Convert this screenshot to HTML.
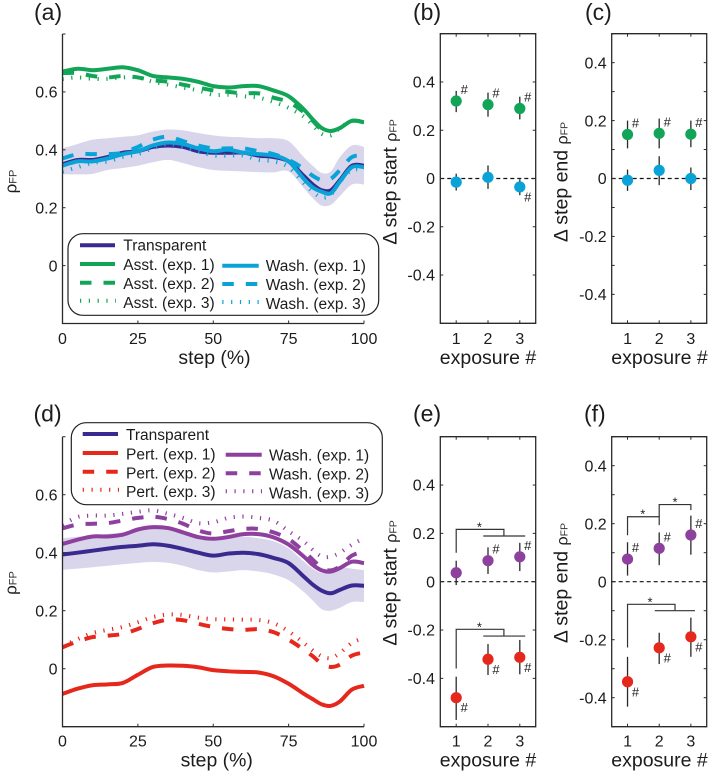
<!DOCTYPE html>
<html>
<head>
<meta charset="utf-8">
<style>
html,body{margin:0;padding:0;background:#fff;}
svg{display:block;font-family:"Liberation Sans",sans-serif;fill:#1c1c1c;}
</style>
</head>
<body>
<svg id="fig" xmlns="http://www.w3.org/2000/svg" width="709" height="774" viewBox="0 0 709 774">
<g id="bands"></g>
<g id="marks"></g>
<g id="axes"></g>

<text x="34" y="20" font-size="23">(a)</text>
<text x="413" y="20" font-size="23">(b)</text>
<text x="585" y="20" font-size="23">(c)</text>
<text x="33.5" y="421.7" font-size="23">(d)</text>
<text x="413" y="421.7" font-size="23">(e)</text>
<text x="584" y="421.7" font-size="23">(f)</text>

<text x="214.5" y="364" font-size="19.4" text-anchor="middle">step (%)</text>
<text x="216.7" y="766.7" font-size="19.4" text-anchor="middle">step (%)</text>
<text x="488" y="364" font-size="19.5" text-anchor="middle">exposure #</text>
<text x="659.5" y="364" font-size="19.5" text-anchor="middle">exposure #</text>
<text x="488" y="766.7" font-size="19.5" text-anchor="middle">exposure #</text>
<text x="659.5" y="766.7" font-size="19.5" text-anchor="middle">exposure #</text>

<text transform="translate(16.7,181.5) rotate(-90)" font-size="17" text-anchor="middle">ρ<tspan font-size="11" fill="#333">FP</tspan></text>
<text transform="translate(16.7,583) rotate(-90)" font-size="17" text-anchor="middle">ρ<tspan font-size="11" fill="#333">FP</tspan></text>
<text transform="translate(396.7,182) rotate(-90)" font-size="19.5" text-anchor="middle">Δ step start <tspan font-size="16">ρ</tspan><tspan font-size="10.5" fill="#333">FP</tspan></text>
<text transform="translate(567.7,182) rotate(-90)" font-size="19.5" text-anchor="middle">Δ step end <tspan font-size="16">ρ</tspan><tspan font-size="10.5" fill="#333">FP</tspan></text>
<text transform="translate(396.7,583) rotate(-90)" font-size="19.5" text-anchor="middle">Δ step start <tspan font-size="16">ρ</tspan><tspan font-size="10.5" fill="#333">FP</tspan></text>
<text transform="translate(567.7,583) rotate(-90)" font-size="19.5" text-anchor="middle">Δ step end <tspan font-size="16">ρ</tspan><tspan font-size="10.5" fill="#333">FP</tspan></text>

<g font-size="15.5">
  <rect x="68" y="233.7" width="310.7" height="81.6" rx="15" fill="#fff" stroke="#222" stroke-width="1.2"/>
  <line x1="80" x2="115" y1="245.3" y2="245.3" stroke="#3a2a8f" stroke-width="4"/>
  <text x="123.3" y="250.7">Transparent</text>
  <line x1="80" x2="115" y1="264" y2="264" stroke="#12a558" stroke-width="4"/>
  <text x="123.3" y="270">Asst. (exp. 1)</text>
  <line x1="80" x2="115" y1="282.7" y2="282.7" stroke="#12a558" stroke-width="4" stroke-dasharray="11.5 12"/>
  <text x="123.3" y="289">Asst. (exp. 2)</text>
  <line x1="80" x2="116" y1="300.7" y2="300.7" stroke="#12a558" stroke-width="4" stroke-dasharray="1.2 7.6"/>
  <text x="123.3" y="308">Asst. (exp. 3)</text>
  <line x1="222.3" x2="258.7" y1="265.7" y2="265.7" stroke="#0aa3d8" stroke-width="4"/>
  <text x="265.7" y="271">Wash. (exp. 1)</text>
  <line x1="222.3" x2="258.7" y1="284" y2="284" stroke="#0aa3d8" stroke-width="4" stroke-dasharray="11.5 12"/>
  <text x="265.7" y="290">Wash. (exp. 2)</text>
  <line x1="222.3" x2="259" y1="302" y2="302" stroke="#0aa3d8" stroke-width="4" stroke-dasharray="1.2 7.6"/>
  <text x="265.7" y="309">Wash. (exp. 3)</text>
</g>

<g font-size="15.5">
  <rect x="71.3" y="422.7" width="311" height="82" rx="15" fill="#fff" stroke="#222" stroke-width="1.2"/>
  <line x1="82.7" x2="118" y1="434" y2="434" stroke="#3a2a8f" stroke-width="4"/>
  <text x="126" y="440">Transparent</text>
  <line x1="82.7" x2="118" y1="453" y2="453" stroke="#e6281c" stroke-width="4"/>
  <text x="126" y="459.3">Pert. (exp. 1)</text>
  <line x1="82.7" x2="118" y1="471.7" y2="471.7" stroke="#e6281c" stroke-width="4" stroke-dasharray="11.5 12"/>
  <text x="126" y="478.3">Pert. (exp. 2)</text>
  <line x1="82.7" x2="119" y1="489.7" y2="489.7" stroke="#e6281c" stroke-width="4" stroke-dasharray="1.2 7.6"/>
  <text x="126" y="497">Pert. (exp. 3)</text>
  <line x1="225.7" x2="261.7" y1="454.7" y2="454.7" stroke="#8e409e" stroke-width="4"/>
  <text x="269" y="460.7">Wash. (exp. 1)</text>
  <line x1="225.7" x2="261.7" y1="473.3" y2="473.3" stroke="#8e409e" stroke-width="4" stroke-dasharray="11.5 12"/>
  <text x="269" y="479.7">Wash. (exp. 2)</text>
  <line x1="225.7" x2="262" y1="491.3" y2="491.3" stroke="#8e409e" stroke-width="4" stroke-dasharray="1.2 7.6"/>
  <text x="269" y="498.3">Wash. (exp. 3)</text>
</g>
</svg>

<script>
/* ---------- data: step curves ---------- */
const steps = [0,5,10,15,20,25,30,35,40,45,50,55,60,65,70,75,80,83,86,89,92,96,100];

const aTransparent = [.35,.365,.365,.375,.39,.395,.41,.415,.41,.395,.39,.39,.39,.38,.375,.36,.31,.28,.26,.26,.295,.345,.345];
const aTransparentHi = [.405,.42,.435,.44,.445,.45,.463,.47,.467,.458,.45,.445,.443,.44,.44,.43,.375,.345,.32,.325,.375,.415,.41];
const aTransparentLo = [.315,.315,.317,.33,.337,.345,.357,.365,.354,.34,.33,.327,.325,.323,.322,.325,.268,.233,.207,.21,.24,.28,.28];
const aAsst1 = [.67,.68,.675,.68,.685,.675,.655,.65,.645,.635,.62,.615,.62,.62,.605,.585,.54,.505,.475,.465,.475,.5,.495];
const aAsst2 = [.665,.665,.655,.65,.655,.65,.64,.635,.625,.615,.605,.6,.595,.595,.58,.565,.53,.5,.47,.465,.475,.5,.495];
const aAsst3 = [.645,.65,.645,.645,.65,.65,.635,.625,.615,.605,.59,.59,.585,.58,.565,.545,.515,.485,.455,.45,.475,.5,.495];
const aWash1 = [.345,.36,.36,.37,.385,.395,.415,.425,.42,.405,.395,.4,.39,.385,.38,.36,.3,.27,.255,.25,.29,.34,.34];
const aWash2 = [.37,.385,.385,.385,.39,.41,.435,.445,.43,.415,.405,.405,.405,.395,.385,.365,.335,.31,.295,.3,.33,.375,.38];
const aWash3 = [.325,.34,.355,.36,.375,.385,.405,.42,.41,.395,.38,.38,.38,.365,.36,.34,.285,.255,.235,.245,.29,.33,.33];

const dTransparent = [.394,.4,.407,.414,.42,.424,.429,.424,.413,.4,.39,.397,.4,.395,.382,.364,.318,.29,.269,.26,.272,.287,.286];
const dTransparentHi = [.45,.455,.46,.465,.47,.475,.485,.485,.47,.455,.445,.45,.455,.45,.44,.415,.37,.345,.33,.335,.35,.345,.34];
const dTransparentLo = [.341,.345,.35,.355,.36,.365,.368,.365,.355,.34,.332,.335,.34,.335,.325,.305,.265,.235,.205,.2,.21,.23,.23];
const dPert1 = [-.087,-.069,-.057,-.054,-.049,-.021,.006,.011,.01,.005,-.005,-.009,-.011,-.013,-.026,-.052,-.086,-.105,-.123,-.128,-.113,-.072,-.059];
const dPert2 = [.074,.094,.109,.114,.12,.137,.157,.169,.167,.155,.144,.137,.134,.136,.126,.1,.066,.043,.017,.006,.014,.045,.056];
const dPert3 = [.077,.102,.123,.134,.144,.16,.178,.187,.185,.176,.171,.17,.169,.168,.157,.129,.089,.063,.043,.037,.054,.089,.106];
const dWash1 = [.43,.445,.456,.456,.462,.48,.488,.485,.47,.454,.448,.454,.464,.464,.453,.428,.387,.358,.339,.335,.347,.369,.364];
const dWash2 = [.484,.497,.5,.502,.511,.52,.524,.516,.5,.477,.466,.474,.482,.482,.47,.447,.405,.376,.347,.339,.353,.39,.405];
const dWash3 = [.497,.523,.528,.528,.534,.541,.546,.534,.52,.502,.505,.52,.525,.52,.51,.474,.439,.41,.387,.387,.4,.428,.45];

/* ---------- data: exposure summaries ---------- */
const exposures = [1,2,3];

const bAsst = [.321,.306,.29];
const bAsstHi = [.363,.356,.339];
const bAsstLo = [.275,.256,.245];
const bAsstSig = [1,1,1];
const bWash = [-.015,.005,-.035];
const bWashHi = [.02,.054,-.004];
const bWashLo = [-.05,-.043,-.069];
const bWashSig = [0,0,1];

const cAsst = [.152,.156,.153];
const cAsstHi = [.2,.207,.2];
const cAsstLo = [.104,.104,.108];
const cAsstSig = [1,1,1];
const cWash = [-.006,.028,0];
const cWashHi = [.031,.077,.038];
const cWashLo = [-.043,-.023,-.04];
const cWashSig = [0,0,0];

const eWash = [.037,.087,.103];
const eWashHi = [.087,.142,.161];
const eWashLo = [-.014,.032,.044];
const eWashSig = [0,1,1];
const ePert = [-.48,-.321,-.313];
const ePertHi = [-.393,-.258,-.241];
const ePertLo = [-.572,-.386,-.383];
const ePertSig = [1,1,1];

const fWash = [.078,.115,.161];
const fWashHi = [.136,.17,.228];
const fWashLo = [.021,.057,.093];
const fWashSig = [1,1,1];
const fPert = [-.345,-.228,-.19];
const fPertHi = [-.259,-.176,-.124];
const fPertLo = [-.431,-.284,-.259];
const fPertSig = [1,1,1];

/* ---------- tick labels ---------- */
const stepTicks = [0,25,50,75,100];
const rhoTicks = [-.2,0,.2,.4,.6,.8];
const rhoTickLabels = ['','0','0.2','0.4','0.6',''];
const startTicks = [-.6,-.4,-.2,0,.2,.4,.6];
const startTickLabels = ['','-0.4','-0.2','0','0.2','0.4',''];
const endTicks = [-.5,-.4,-.3,-.2,-.1,0,.1,.2,.3,.4,.5];
const endTickLabels = ['','-0.4','','-0.2','','0','','0.2','','0.4',''];

/* ---------- significance brackets, in data units (exposure, value) ---------- */
const eBracketUpperA = [[1,.12],[1,.2166],[2.5,.2166],[2.5,.189]];
const eBracketUpperB = [[1.85,.189],[3.17,.189]];
const eBracketUpperStar = [1.73,.2166];
const eBracketLowerA = [[1,-.359],[1,-.197],[2.5,-.197],[2.5,-.225]];
const eBracketLowerB = [[1.85,-.225],[3.17,-.225]];
const eBracketLowerStar = [1.73,-.197];

const fBracketUpperA = [[1,.16],[1,.224],[2,.224],[2,.195]];
const fBracketUpperB = [[2,.224],[2,.266],[3,.266],[3,.247]];
const fBracketUpperStarA = [1.48,.224];
const fBracketUpperStarB = [2.5,.266];
const fBracketLowerA = [[1,-.227],[1,-.078],[2.5,-.078],[2.5,-.1]];
const fBracketLowerB = [[1.86,-.1],[3.13,-.1]];
const fBracketLowerStar = [1.71,-.078];

/* ---------- helpers ---------- */
const NS = 'http://www.w3.org/2000/svg';
const bandsG = document.getElementById('bands');
const marksG = document.getElementById('marks');
const axesG = document.getElementById('axes');
const INK = '#2a2a2a';

function make(tag, props, parent) {
  const n = document.createElementNS(NS, tag);
  for (const k in props) n.setAttribute(k, props[k]);
  parent.appendChild(n);
  return n;
}
function scale(d0, d1, p0, p1) {
  return v => p0 + (v - d0) * (p1 - p0) / (d1 - d0);
}
function smoothPath(pts, moveFirst) {
  let d = moveFirst === false ? 'L' + pts[0][0].toFixed(2) + ' ' + pts[0][1].toFixed(2)
                              : 'M' + pts[0][0].toFixed(2) + ' ' + pts[0][1].toFixed(2);
  for (let i = 0; i < pts.length - 1; i++) {
    const p0 = pts[Math.max(i - 1, 0)], p1 = pts[i], p2 = pts[i + 1], p3 = pts[Math.min(i + 2, pts.length - 1)];
    const c1x = p1[0] + (p2[0] - p0[0]) / 6, c1y = p1[1] + (p2[1] - p0[1]) / 6;
    const c2x = p2[0] - (p3[0] - p1[0]) / 6, c2y = p2[1] - (p3[1] - p1[1]) / 6;
    d += 'C' + c1x.toFixed(2) + ' ' + c1y.toFixed(2) + ' ' + c2x.toFixed(2) + ' ' + c2y.toFixed(2) + ' ' + p2[0].toFixed(2) + ' ' + p2[1].toFixed(2);
  }
  return d;
}

/* ---------- axes ---------- */
function drawAxes(name, box, x, y, xTicks, yTicks, yLabels, xLabelBase, yLabelEnd, boxed) {
  const frame = make('path', {
    d: boxed
      ? `M${box.l} ${box.b}H${box.r}V${box.t}H${box.l}Z`
      : `M${box.l} ${box.t}V${box.b}H${box.r}`,
    fill: 'none', stroke: INK, 'stroke-width': 1.3
  }, axesG);
  
  
  xTicks.forEach(t => {
    const px = x(t);
    const tk = make('line', { x1: px, x2: px, y1: box.b, y2: box.b - 3, stroke: INK, 'stroke-width': 1 }, axesG);
    
    
    if (boxed) {
      const tk2 = make('line', { x1: px, x2: px, y1: box.t, y2: box.t + 3, stroke: INK, 'stroke-width': 1 }, axesG);
      
      
    }
    const lb = make('text', { x: px, y: xLabelBase, 'font-size': 16, 'text-anchor': 'middle' }, axesG);
    lb.textContent = String(t);
    
    
  });
  yTicks.forEach((t, i) => {
    const py = y(t);
    const tk = make('line', { x1: box.l, x2: box.l + 3, y1: py, y2: py, stroke: INK, 'stroke-width': 1 }, axesG);
    
    
    if (boxed) {
      const tk2 = make('line', { x1: box.r, x2: box.r - 3, y1: py, y2: py, stroke: INK, 'stroke-width': 1 }, axesG);
      
      
    }
    if (yLabels[i]) {
      const lb = make('text', { x: yLabelEnd, y: py + 5.7, 'font-size': 16, 'text-anchor': 'end' }, axesG);
      lb.textContent = yLabels[i];
      
      
    }
  });
}

/* ---------- step panels ---------- */
function drawBand(name, hi, lo, x, y, fill) {
  const up = steps.map((s, i) => [x(s), y(hi[i])]);
  const dn = steps.map((s, i) => [x(s), y(lo[i])]).reverse();
  const p = make('path', { d: smoothPath(up) + smoothPath(dn, false) + 'Z', fill: fill, stroke: 'none' }, bandsG);
  
  
}
function drawCurve(name, vals, x, y, color, style) {
  const pts = steps.map((s, i) => [x(s), y(vals[i])]);
  const props = { d: smoothPath(pts), fill: 'none', stroke: color, 'stroke-width': 4, 'stroke-linejoin': 'round' };
  if (style === 'dash') props['stroke-dasharray'] = '11.5 12';
  if (style === 'dot') props['stroke-dasharray'] = '1.2 7.6';
  const p = make('path', props, marksG);
  
  
}

const COL = { tr: '#3a2a8f', green: '#12a558', blue: '#0aa3d8', red: '#e6281c', purple: '#8e409e', band: '#d9d6ec' };

const boxA = { l: 62.5, r: 364, t: 34, b: 323.5 };
const boxD = { l: 62.5, r: 364, t: 436.7, b: 726.7 };
const xA = scale(0, 100, boxA.l, boxA.r);
const yA = scale(-.2, .8, boxA.b, boxA.t);
const xD = scale(0, 100, boxD.l, boxD.r);
const yD = scale(-.2, .8, boxD.b, boxD.t);

drawBand('band-a-transparent', aTransparentHi, aTransparentLo, xA, yA, COL.band);
drawCurve('line-a-asst-3', aAsst3, xA, yA, COL.green, 'dot');
drawCurve('line-a-asst-2', aAsst2, xA, yA, COL.green, 'dash');
drawCurve('line-a-asst-1', aAsst1, xA, yA, COL.green, 'solid');
drawCurve('line-a-transparent', aTransparent, xA, yA, COL.tr, 'solid');
drawCurve('line-a-wash-3', aWash3, xA, yA, COL.blue, 'dot');
drawCurve('line-a-wash-2', aWash2, xA, yA, COL.blue, 'dash');
drawCurve('line-a-wash-1', aWash1, xA, yA, COL.blue, 'solid');
drawAxes('panel-a', boxA, xA, yA, stepTicks, rhoTicks, rhoTickLabels, 344, 57.5, false);

drawBand('band-d-transparent', dTransparentHi, dTransparentLo, xD, yD, COL.band);
drawCurve('line-d-pert-3', dPert3, xD, yD, COL.red, 'dot');
drawCurve('line-d-pert-2', dPert2, xD, yD, COL.red, 'dash');
drawCurve('line-d-pert-1', dPert1, xD, yD, COL.red, 'solid');
drawCurve('line-d-wash-3', dWash3, xD, yD, COL.purple, 'dot');
drawCurve('line-d-wash-2', dWash2, xD, yD, COL.purple, 'dash');
drawCurve('line-d-wash-1', dWash1, xD, yD, COL.purple, 'solid');
drawCurve('line-d-transparent', dTransparent, xD, yD, COL.tr, 'solid');
drawAxes('panel-d', boxD, xD, yD, stepTicks, rhoTicks, rhoTickLabels, 746.7, 57.5, false);

/* ---------- exposure panels ---------- */
function drawZero(name, box, y) {
  const l = make('line', { x1: box.l, x2: box.r, y1: y(0), y2: y(0), stroke: '#111', 'stroke-width': 1.2, 'stroke-dasharray': '4 3' }, marksG);
  
  
}
function drawDots(name, vals, hi, lo, sig, x, y, color, hashBelow) {
  exposures.forEach((e, i) => {
    const px = x(e);
    const bar = make('line', { x1: px, x2: px, y1: y(hi[i]), y2: y(lo[i]), stroke: INK, 'stroke-width': 1.3 }, marksG);
    
    
    const dot = make('circle', { cx: px, cy: y(vals[i]), r: 5.6, fill: color }, marksG);
    
    
    if (sig[i]) {
      const h = make('text', { x: px + 8, y: y(vals[i]) + (hashBelow ? 14.5 : -7), 'font-size': 13, 'text-anchor': 'middle' }, marksG);
      h.textContent = '#';
      
      
    }
  });
}
function drawBracket(name, coords, x, y) {
  const d = coords.map((c, i) => (i ? 'L' : 'M') + x(c[0]).toFixed(2) + ' ' + y(c[1]).toFixed(2)).join('');
  const p = make('path', { d: d, fill: 'none', stroke: '#333', 'stroke-width': 1.2 }, marksG);
  
  
}
function drawStar(name, pos, x, y) {
  const s = make('text', { x: x(pos[0]), y: y(pos[1]) + 2, 'font-size': 13, 'text-anchor': 'middle' }, marksG);
  s.textContent = '*';
  
  
}

const boxB = { l: 440.3, r: 535.7, t: 33.7, b: 323.3 };
const boxC = { l: 611.7, r: 706.7, t: 33.7, b: 323.3 };
const boxE = { l: 440.3, r: 535.7, t: 436.7, b: 726.7 };
const boxF = { l: 611.7, r: 706.7, t: 436.7, b: 726.7 };
const xB = scale(.5, 3.5, boxB.l, boxB.r);
const xC = scale(.5, 3.5, boxC.l, boxC.r);
const yB = scale(-.6, .6, boxB.b, boxB.t);
const yC = scale(-.5, .5, boxC.b, boxC.t);
const yE = scale(-.6, .6, boxE.b, boxE.t);
const yF = scale(-.5, .5, boxF.b, boxF.t);

drawZero('panel-b', boxB, yB);
drawDots('panel-b-wash', bWash, bWashHi, bWashLo, bWashSig, xB, yB, COL.blue, true);
drawDots('panel-b-asst', bAsst, bAsstHi, bAsstLo, bAsstSig, xB, yB, COL.green, false);
drawAxes('panel-b', boxB, xB, yB, exposures, startTicks, startTickLabels, 344, 435, true);

drawZero('panel-c', boxC, yC);
drawDots('panel-c-wash', cWash, cWashHi, cWashLo, cWashSig, xC, yC, COL.blue, true);
drawDots('panel-c-asst', cAsst, cAsstHi, cAsstLo, cAsstSig, xC, yC, COL.green, false);
drawAxes('panel-c', boxC, xC, yC, exposures, endTicks, endTickLabels, 344, 606.7, true);

drawZero('panel-e', boxE, yE);
drawBracket('panel-e-bracket-upper-long', eBracketUpperA, xB, yE);
drawBracket('panel-e-bracket-upper-short', eBracketUpperB, xB, yE);
drawStar('panel-e-star-upper', eBracketUpperStar, xB, yE);
drawBracket('panel-e-bracket-lower-long', eBracketLowerA, xB, yE);
drawBracket('panel-e-bracket-lower-short', eBracketLowerB, xB, yE);
drawStar('panel-e-star-lower', eBracketLowerStar, xB, yE);
drawDots('panel-e-wash', eWash, eWashHi, eWashLo, eWashSig, xB, yE, COL.purple, false);
drawDots('panel-e-pert', ePert, ePertHi, ePertLo, ePertSig, xB, yE, COL.red, true);
drawAxes('panel-e', boxE, xB, yE, exposures, startTicks, startTickLabels, 746.7, 435, true);

drawZero('panel-f', boxF, yF);
drawBracket('panel-f-bracket-upper-left', fBracketUpperA, xC, yF);
drawBracket('panel-f-bracket-upper-right', fBracketUpperB, xC, yF);
drawStar('panel-f-star-upper-left', fBracketUpperStarA, xC, yF);
drawStar('panel-f-star-upper-right', fBracketUpperStarB, xC, yF);
drawBracket('panel-f-bracket-lower-long', fBracketLowerA, xC, yF);
drawBracket('panel-f-bracket-lower-short', fBracketLowerB, xC, yF);
drawStar('panel-f-star-lower', fBracketLowerStar, xC, yF);
drawDots('panel-f-wash', fWash, fWashHi, fWashLo, fWashSig, xC, yF, COL.purple, false);
drawDots('panel-f-pert', fPert, fPertHi, fPertLo, fPertSig, xC, yF, COL.red, true);
drawAxes('panel-f', boxF, xC, yF, exposures, endTicks, endTickLabels, 746.7, 606.7, true);
</script>
</body>
</html>
